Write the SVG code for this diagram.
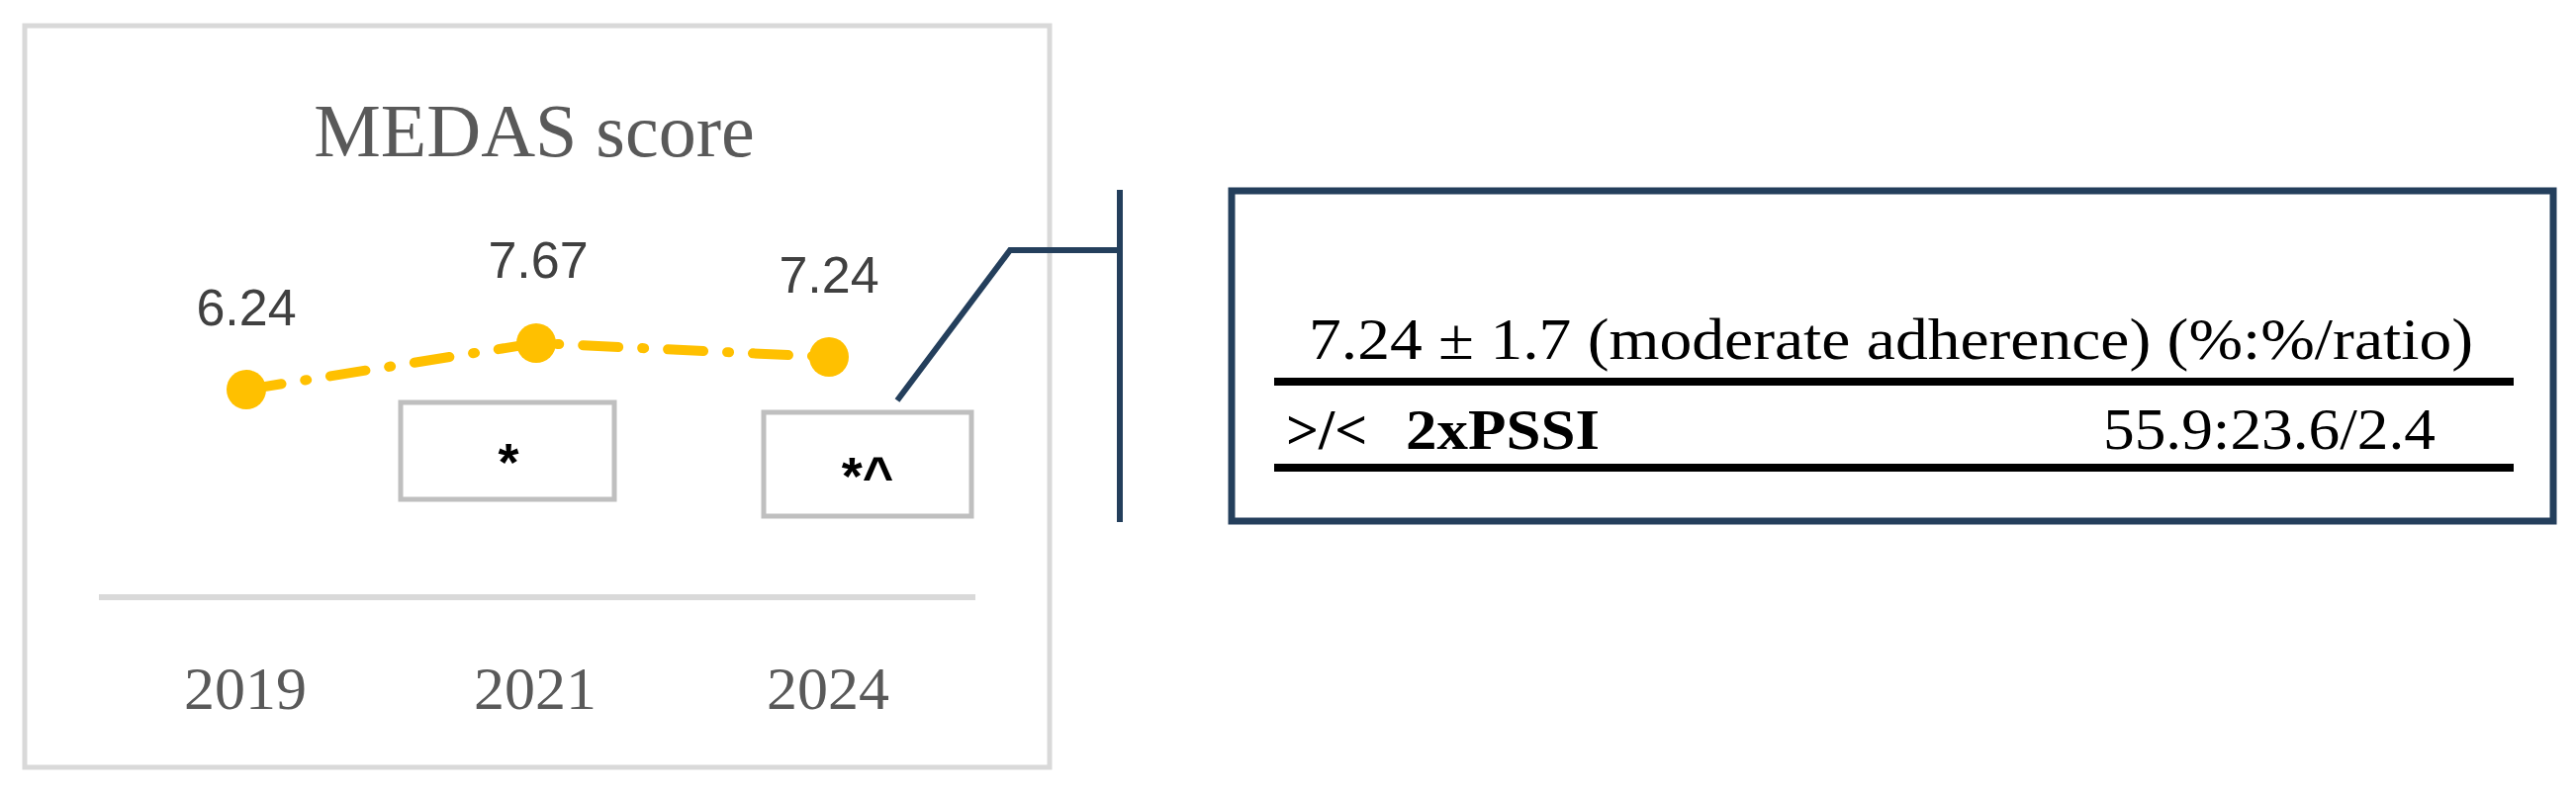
<svg xmlns="http://www.w3.org/2000/svg" width="2604" height="801" viewBox="0 0 2604 801">
<style>
.serif{font-family:"Liberation Serif",serif}
.sans{font-family:"Liberation Sans",sans-serif}
.gray{fill:#595959}
.lbl{fill:#404040;font-size:52px;text-anchor:middle}
.yr{font-size:62px;text-anchor:middle}
.box{fill:#fff;stroke:#bfbfbf;stroke-width:5}
.pt{fill:#FFC000}
.dark{stroke:#243f5c;fill:none}
</style>
<rect id="frame" x="25" y="26" width="1036" height="750" fill="#fff" stroke="#d9d9d9" stroke-width="5"/>
<text id="title" class="serif gray" x="540" y="158" font-size="76" text-anchor="middle">MEDAS score</text>
<g id="connectors">
<path d="M249,394 L542,347 L838,361" fill="none" stroke="#FFC000" stroke-width="10" stroke-linecap="round" stroke-dasharray="36,24,2,24"/>
<path class="dark" d="M907,405 L1021,253 L1132,253" stroke-width="6"/>
<line class="dark" x1="1132" y1="192" x2="1132" y2="528" stroke-width="6"/>
<line x1="100" y1="604" x2="986" y2="604" stroke="#d9d9d9" stroke-width="6"/>
</g>
<g id="p2019"><circle class="pt" cx="249" cy="394" r="20"/><text class="sans lbl" x="249" y="329">6.24</text></g>
<g id="p2021"><circle class="pt" cx="542" cy="347" r="20"/><text class="sans lbl" x="544" y="281">7.67</text></g>
<g id="p2024"><circle class="pt" cx="838" cy="361" r="20"/><text class="sans lbl" x="838" y="296">7.24</text></g>
<g id="box1"><rect class="box" x="405" y="407" width="216" height="98"/><text class="sans" x="514" y="486" font-size="54" font-weight="bold" text-anchor="middle">*</text></g>
<g id="box2"><rect class="box" x="772" y="417" width="210" height="105"/><text class="sans" x="877" y="500" font-size="54" font-weight="bold" text-anchor="middle">*^</text></g>
<g id="years" class="serif gray">
<text class="yr" x="248" y="717">2019</text>
<text class="yr" x="541" y="717">2021</text>
<text class="yr" x="837" y="717">2024</text>
</g>
<g id="table">
<rect x="1245" y="193" width="1336" height="334" fill="#fff" stroke="#243f5c" stroke-width="7"/>
<text class="serif" x="1323" y="363" font-size="60" textLength="1177" lengthAdjust="spacingAndGlyphs">7.24 ± 1.7 (moderate adherence) (%:%/ratio)</text>
<rect x="1288" y="382" width="1253" height="8" fill="#000"/>
<text class="serif" x="1300" y="454" font-size="58" font-weight="bold">&gt;/&lt;</text>
<text class="serif" x="1421" y="454" font-size="58" font-weight="bold" textLength="196" lengthAdjust="spacingAndGlyphs">2xPSSI</text>
<text class="serif" x="2126" y="454" font-size="60" textLength="336" lengthAdjust="spacingAndGlyphs">55.9:23.6/2.4</text>
<rect x="1288" y="469" width="1253" height="8" fill="#000"/>
</g>
</svg>
